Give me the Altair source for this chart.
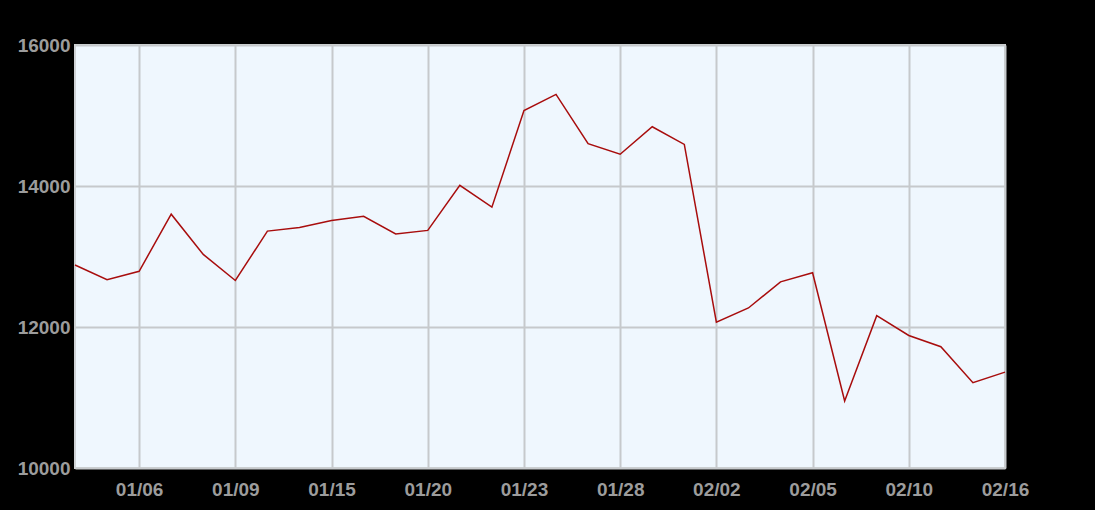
import altair as alt
import pandas as pd

# Trading-day labels and closing values
dates = [
    "01/02", "01/03", "01/06", "01/07", "01/08", "01/09", "01/10", "01/13",
    "01/15", "01/16", "01/17", "01/20", "01/21", "01/22", "01/23", "01/24",
    "01/27", "01/28", "01/29", "01/30", "02/02", "02/03", "02/04", "02/05",
    "02/06", "02/07", "02/10", "02/11", "02/12", "02/16",
]
values = [
    12880, 12670, 12790, 13600, 13030, 12660, 13360, 13410,
    13510, 13570, 13320, 13370, 14010, 13700, 15070, 15300,
    14600, 14450, 14840, 14590, 12070, 12270, 12640, 12770,
    10950, 12160, 11880, 11720, 11210, 11360,
]
x_ticks = ["01/06", "01/09", "01/15", "01/20", "01/23", "01/28",
           "02/02", "02/05", "02/10", "02/16"]
y_ticks = [10000, 12000, 14000, 16000]

df = pd.DataFrame({"date": dates, "value": values})

label_color = "#9c9c9c"
grid_color = "#c6c9cc"
font = "Liberation Sans"

chart = (
    alt.Chart(df)
    .mark_line(color="#a80d0d", strokeWidth=1.5)
    .encode(
        x=alt.X(
            "date:O",
            sort=None,
            scale=alt.Scale(type="point", padding=0),
            axis=alt.Axis(
                values=x_ticks, title=None, labelAngle=0, ticks=False,
                domain=False, grid=True, gridColor=grid_color, gridWidth=2,
                labelColor=label_color, labelFont=font, labelFontSize=19,
                labelFontWeight="bold", labelPadding=12,
            ),
        ),
        y=alt.Y(
            "value:Q",
            scale=alt.Scale(domain=[10000, 16000], nice=False, zero=False),
            axis=alt.Axis(
                values=y_ticks, title=None, ticks=False, domain=False,
                grid=True, gridColor=grid_color, gridWidth=2,
                labelColor=label_color, labelFont=font, labelFontSize=19,
                labelFontWeight="bold", labelPadding=5, format="d",
            ),
        ),
    )
    .properties(
        width=930,
        height=423,
        background="black",
        padding={"left": 75, "top": 45, "right": 90, "bottom": 42},
        autosize=alt.AutoSizeParams(type="none"),
    )
    .configure_view(fill="#eff7fe", stroke="#cfd2d5", strokeWidth=2)
)

chart.save("out.html", embed_options={"renderer": "svg", "actions": False})
